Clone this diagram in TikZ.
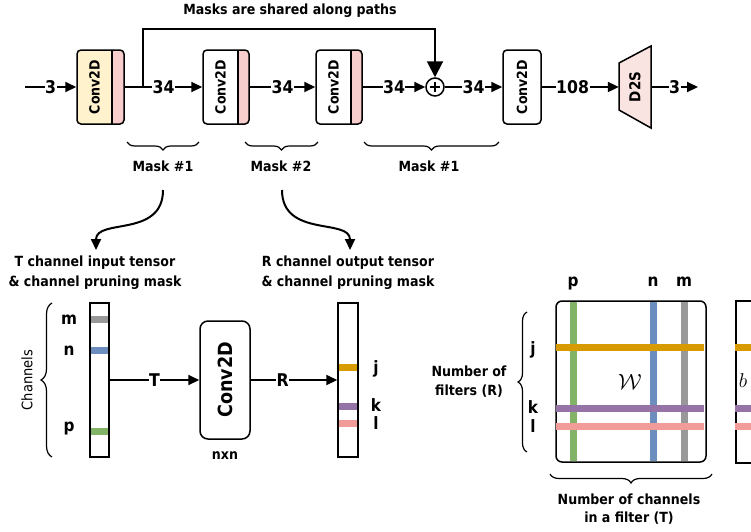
\documentclass[tikz,border=0pt]{standalone}
\usepackage{fix-cm}
\usepackage{fontspec}
\setmainfont{DejaVu Sans Condensed}
\usetikzlibrary{arrows.meta,decorations.pathreplacing,calc}
\definecolor{cyel}{HTML}{FFF2CC}
\definecolor{cpink}{HTML}{F8CECC}
\definecolor{cdts}{HTML}{FAE4E2}
\definecolor{sgray}{HTML}{999999}
\definecolor{sblue}{HTML}{6C8EBF}
\definecolor{sgreen}{HTML}{82B366}
\definecolor{sorange}{HTML}{D79B00}
\definecolor{spurple}{HTML}{9673A6}
\definecolor{sred}{HTML}{F19C99}
\begin{document}
\begin{tikzpicture}[x=1pt,y=-1pt,
  every node/.style={font=\bfseries\fontsize{14}{16}\selectfont, inner sep=1pt},
  conn/.style={line width=2pt},
  arr/.style={line width=2pt,-{Triangle[length=11pt,width=10pt]}},
  bigarr/.style={line width=2pt,-{Triangle[length=16pt,width=16pt]}},
  lbl/.style={fill=white,font=\bfseries\fontsize{17.5}{19}\selectfont,inner sep=0.5pt},
  letter/.style={font=\bfseries\fontsize{17}{19}\selectfont,inner sep=0pt},
  convbox/.style={draw,line width=1.5pt,rounded corners=4pt,minimum height=74pt,inner sep=0pt},
  pinkstrip/.style={path picture={
      \fill[cpink] ([xshift=-#1]path picture bounding box.north east) rectangle (path picture bounding box.south east);
      \draw[line width=1.5pt] ([xshift=-#1]path picture bounding box.north east) -- ([xshift=-#1]path picture bounding box.south east);}},
  vtext/.style={rotate=90,font=\bfseries\fontsize{14}{16}\selectfont},
  brace/.style={decorate,decoration={brace,amplitude=#1},line width=1.2pt},
  bar/.style={draw,line width=1.5pt,minimum width=19pt,minimum height=154pt,inner sep=0pt},
  stripe/.style={line width=7pt},
  two/.style={align=center,font=\bfseries\fontsize{14}{20}\selectfont}
]
\useasboundingbox (0,0) rectangle (751,531);
\clip (0,0) rectangle (751,531);

% ---------- top row ----------
\node (title) at (290,11) {Masks are shared along paths};
\coordinate (in) at (25,87);
\node[convbox,fill=cyel,minimum width=47pt,pinkstrip=12pt] (c1) at (100.5,87) {};
\node[vtext] (c1t) at ([xshift=-6pt]c1.center) {Conv2D};
\node[convbox,fill=white,minimum width=46pt,pinkstrip=11pt] (c2) at (226,87) {};
\node[vtext] (c2t) at ([xshift=-5.5pt]c2.center) {Conv2D};
\node[convbox,fill=white,minimum width=46pt,pinkstrip=11pt] (c3) at (339,87) {};
\node[vtext] (c3t) at ([xshift=-5.5pt]c3.center) {Conv2D};
\node[draw,circle,line width=1.5pt,minimum size=18pt,inner sep=0pt] (add) at (435,87) {};
\draw[line width=1.5pt] ([xshift=-5pt]add.center) -- ([xshift=5pt]add.center);
\draw[line width=1.5pt] ([yshift=-5pt]add.center) -- ([yshift=5pt]add.center);
\node[convbox,fill=white,minimum width=38pt] (c4) at (522,87) {};
\node[vtext] (c4t) at (c4.center) {Conv2D};
\node[minimum width=32pt,minimum height=48pt,inner sep=0pt] (d2s) at (635,87) {};
\filldraw[fill=cdts,line width=1.5pt] (619,63) -- (651,46) -- (651,128) -- (619,110) -- cycle;
\node[vtext,font=\bfseries\fontsize{15}{17}\selectfont] (d2st) at (d2s.center) {D2S};
\coordinate (out) at (698,87);

\draw[arr] (in) -- node[lbl]{3} (c1.west);
\draw[arr] (c1.east) -- node[lbl]{34} (c2.west);
\draw[arr] (c2.east) -- node[lbl]{34} (c3.west);
\draw[arr] (c3.east) -- node[lbl]{34} (add.west);
\draw[arr] (add.east) -- node[lbl]{34} (c4.west);
\draw[arr] (c4.east) -- node[lbl,pos=0.4]{108} (d2s.west);
\draw[arr] (d2s.east) -- node[lbl]{3} (out);
\coordinate (br) at (143,87);
\coordinate (sk) at (435,29);
\draw[bigarr] (br) |- (sk) -- (add.north);

% braces and mask labels
\draw[brace=8pt,decoration={mirror}] (127,142) -- (199,142);
\draw[brace=8pt,decoration={mirror}] (245,142) -- (318,142);
\draw[brace=8pt,decoration={mirror}] (364,142) -- (499,142);
\node (m1) at (163,166) {Mask \#1};
\node (m2) at (281,166) {Mask \#2};
\node (m3) at (429,166) {Mask \#1};

\coordinate (cs1) at (163,190);
\coordinate (cs2) at (282,190);
\node[two] (tin) at (95,273) {T channel input tensor\\\& channel pruning mask};
\node[two] (rout) at (348,273) {R channel output tensor\\\& channel pruning mask};
\coordinate (ce1) at (96,250);
\coordinate (ce2) at (350,250);
\draw[arr] (cs1) .. controls (163,238) and (96,218) .. (ce1);
\draw[arr] (cs2) .. controls (282,238) and (350,218) .. (ce2);

% ---------- bottom left ----------
\node[bar] (bar1) at (99.5,380) {};
\draw[stripe,sgray] (90.8,319) -- (108.2,319);
\draw[stripe,sblue] (90.8,350) -- (108.2,350);
\draw[stripe,sgreen] (90.8,431) -- (108.2,431);
\node[letter] (lm) at (69,320) {m};
\node[letter] (ln) at (69,351) {n};
\node[letter] (lp) at (69,428) {p};
\draw[brace=11pt] (52,457) -- (52,303);
\node[rotate=90,font=\fontsize{14.5}{16}\selectfont] (chl) at (27,380) {Channels};

\node[draw,rounded corners=8pt,line width=1.5pt,minimum width=50pt,minimum height=118pt,inner sep=0pt] (conv) at (225,380) {};
\node[rotate=90,font=\bfseries\fontsize{19.5}{22}\selectfont] (convt) at (conv.center) {Conv2D};
\node (nxn) at (225,456) {nxn};

\node[bar,minimum width=20pt] (bar2) at (348,380) {};
\draw[stripe,sorange] (338.8,367) -- (357.2,367);
\draw[stripe,spurple] (338.8,406) -- (357.2,406);
\draw[stripe,sred] (338.8,423) -- (357.2,423);
\node[letter] (lj) at (376,369) {j};
\node[letter] (lk) at (376,405) {k};
\node[letter] (ll) at (376,423) {l};

\draw[arr] (bar1.east |- conv.west) -- node[lbl]{T} (conv.west);
\draw[arr] (conv.east) -- node[lbl,pos=0.37]{R} (bar2.west |- conv.east);

% ---------- bottom right ----------
\node[draw,rounded corners=6pt,line width=1.5pt,minimum width=150pt,minimum height=161pt,inner sep=0pt] (W) at (631,381.5) {};
\draw[stripe,sgreen] (573,302) -- (573,461);
\draw[stripe,sblue] (653,302) -- (653,461);
\draw[stripe,sgray] (684,302) -- (684,461);
\node[draw,line width=1.5pt,minimum width=40pt,minimum height=162pt,inner sep=0pt,anchor=north west] (B) at (735,300) {};
\foreach \yy/\cc in {347/sorange,408/spurple,426/sred}{
  \draw[stripe,\cc] (556,\yy) -- (704,\yy);
  \draw[stripe,\cc] (735,\yy) -- (760,\yy);
}
\node[font=\fontsize{22}{24}\selectfont] (Wt) at (630,382) {$\mathcal{W}$};
\node[font=\fontsize{20}{22}\selectfont] (bt) at (743,381) {$b$};
\node[letter] (tp) at (573,283) {p};
\node[letter] (tn) at (653,282) {n};
\node[letter] (tm) at (684,282) {m};
\node[letter] (rj) at (533,350) {j};
\node[letter] (rk) at (533,407) {k};
\node[letter] (rl) at (533,426) {l};
\draw[brace=9pt] (527,452) -- (527,312);
\node[two,font=\bfseries\fontsize{14}{19}\selectfont] (nf) at (469,382) {Number of\\filters (R)};
\draw[brace=9pt,decoration={mirror}] (550,474) -- (712,474);
\node[two,font=\bfseries\fontsize{14}{18}\selectfont] (nc) at (629,509) {Number of channels\\in a filter (T)};
\end{tikzpicture}
\end{document}
